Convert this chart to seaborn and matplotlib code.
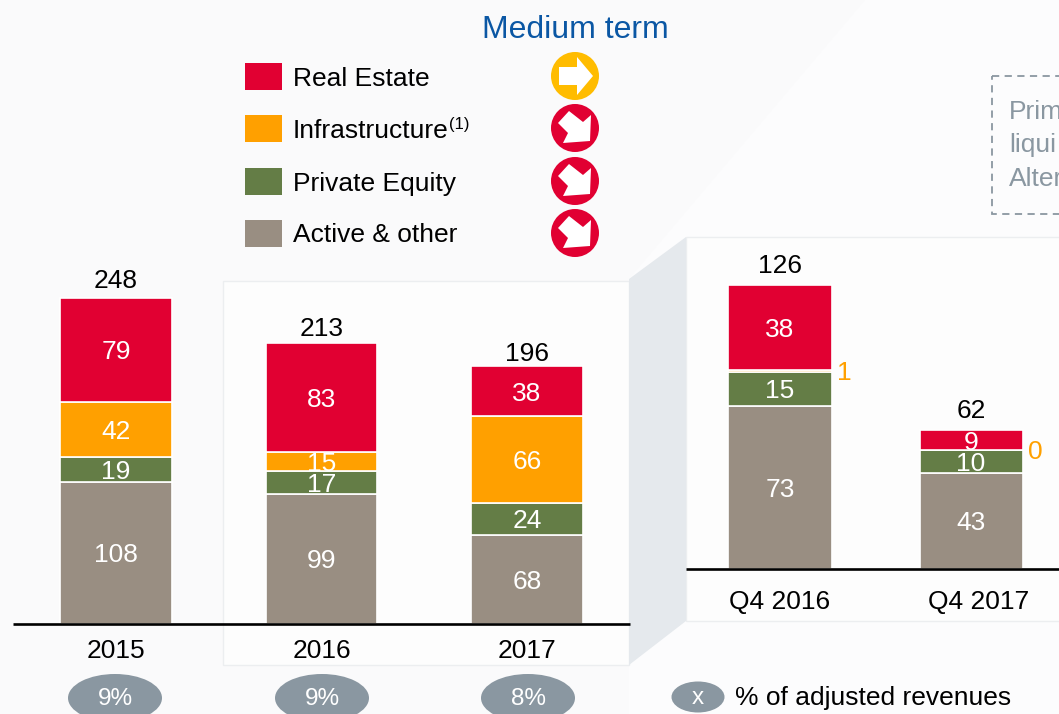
import numpy as np
import pandas as pd
import matplotlib.pyplot as plt
import seaborn as sns
from matplotlib.patches import Circle, Ellipse, Polygon, Rectangle
from matplotlib.transforms import ScaledTranslation

sns.set_theme(style="white")
plt.rcParams['font.family'] = ['Liberation Sans', 'DejaVu Sans']

W, H = 1059, 714

# data
series = ["Active & other", "Private Equity", "Infrastructure", "Real Estate"]
colors = ["#998E82", "#647D46", "#FFA000", "#E10032"]

years = ["2015", "2016", "2017"]
year_active = [108, 99, 68]
year_private = [19, 17, 24]
year_infra = [42, 15, 66]
year_real = [79, 83, 38]
year_totals = [248, 213, 196]
year_shares = ["9%", "9%", "8%"]

quarters = ["Q4 2016", "Q4 2017"]
q_active = [73, 43]
q_private = [15, 10]
q_infra = [1, 0]
q_real = [38, 9]
q_totals = [126, 62]

legend_order = ["Real Estate", "Infrastructure", "Private Equity", "Active & other"]
outlook = ["flat", "down", "down", "down"]

GREY = "#8A97A1"
TEXT_SIZE = 19


def pixel_axes(fig, left, top, right, bottom):
    """axes placed with reference pixel coordinates"""
    return fig.add_axes([left / W, 1 - bottom / H, (right - left) / W, (bottom - top) / H])


def stacked_bars(ax, labels, columns, totals, lifts, ymax, width, pad, side_series=None):
    df = pd.DataFrame(dict(zip(series, columns)))
    df['period'] = labels
    bottoms = np.zeros(len(labels))
    for name, color in zip(series, colors):
        sns.barplot(data=df, x='period', y=name, bottom=bottoms, color=color, saturation=1,
                    width=width, errorbar=None, edgecolor='white', linewidth=1.2, ax=ax)
        for i, v in enumerate(df[name]):
            if name == side_series:
                ax.annotate(str(v), (i + width / 2, bottoms[i] + v / 2), xytext=(4, -1.5),
                            textcoords='offset points', color=color, fontsize=TEXT_SIZE,
                            va='center', ha='left')
            else:
                ax.text(i, bottoms[i] + v / 2, str(v), color='white', fontsize=TEXT_SIZE,
                        ha='center', va='center_baseline')
        bottoms += df[name].to_numpy()

    # totals sit a little above each stack
    for i, total in enumerate(totals):
        ax.annotate(str(total), (i, bottoms[i]), xytext=(0, lifts[i]),
                    textcoords='offset points', ha='center', va='bottom',
                    fontsize=TEXT_SIZE, color='black')

    ax.set_ylim(0, ymax)
    ax.set_xlabel('')
    ax.set_ylabel('')
    ax.set_yticks([])
    ax.patch.set_alpha(0)
    sns.despine(ax=ax, left=True)
    ax.spines['bottom'].set_color('black')
    ax.spines['bottom'].set_linewidth(1.9)
    ax.spines['bottom'].set_capstyle('butt')
    ax.tick_params(axis='x', length=0, pad=pad, labelsize=TEXT_SIZE, labelcolor='black')


def draw_flat_arrow(ax, cx, cy):
    ax.add_patch(Circle((cx, cy), 24, color='#FFBC00', lw=0))
    shape = np.array([[-16, -9], [2, -9], [2, -19], [18, 0], [2, 19], [2, 9], [-16, 9]], dtype=float)
    ax.add_patch(Polygon(shape + [cx, cy], closed=True, color='white', lw=0))


def draw_down_arrow(ax, cx, cy):
    ax.add_patch(Circle((cx, cy), 24, color='#E10032', lw=0))
    shape = np.array([[-6, -17], [-17, -5], [-7, 5], [-12, 15], [15, 13], [16, -13], [8, -6]], dtype=float)
    ax.add_patch(Polygon(shape + [cx, cy], closed=True, color='white', lw=0))


fig = plt.figure(figsize=(W / 100, H / 100), dpi=100, facecolor='#FCFCFD')

# background layer: panels, connector, dashed box
bg = fig.add_axes([0, 0, 1, 1], zorder=0)
bg.set_xlim(0, W)
bg.set_ylim(H, 0)
bg.axis('off')
bg.add_patch(Polygon([(0, 0), (865, 0), (629, 279), (629, 714), (0, 714)], closed=True, color='#FAFAFB', lw=0))
bg.add_patch(Rectangle((223, 281), 406, 384, fc='#FDFDFD', ec='#ECEEF0', lw=1))
bg.add_patch(Rectangle((686, 237), 400, 384, fc='#FDFDFD', ec='#ECEEF0', lw=1))
bg.add_patch(Polygon([(629, 279), (686, 237), (686, 621), (629, 665)], closed=True, color='#E5E9ED', lw=0))
bg.add_patch(Rectangle((992, 76), 120, 138, fc='none', ec=GREY, lw=1.3, ls=(0, (4, 3))))

# left chart
ax_years = pixel_axes(fig, 13.25, 295.25, 629.75, 624)
ax_years.set_zorder(1)
stacked_bars(ax_years, years, [year_active, year_private, year_infra, year_real],
             year_totals, [3.5, 1.5, 0], 250, 0.545, 11)

# right chart, cut by the page edge
ax_q = pixel_axes(fig, 686, 279, W, 569)
ax_q.set_zorder(1)
stacked_bars(ax_q, quarters, [q_active, q_private, q_infra, q_real],
             q_totals, [5, 5], 129.5, 0.54, 15, side_series="Infrastructure")
ax_q.set_xlim(-0.492, 1.46)

# the second quarter label sits right of its bar in the original
q4_label = ax_q.get_xticklabels()[1]
q4_label.set_transform(q4_label.get_transform() + ScaledTranslation(0.08, 0, fig.dpi_scale_trans))

# top layer: legend, arrows, ellipses, free text
top = fig.add_axes([0, 0, 1, 1], zorder=2)
top.set_xlim(0, W)
top.set_ylim(H, 0)
top.axis('off')
top.patch.set_alpha(0)

top.text(575, 30, "Medium term", color='#0B57A4', fontsize=23, ha='center', va='center')

row_y = [76, 128, 181, 233]
for name, state, y in zip(legend_order, outlook, row_y):
    color = colors[series.index(name)]
    top.add_patch(Rectangle((245, y - 13.5), 37, 27, color=color, lw=0))
    top.text(293, y, name, fontsize=TEXT_SIZE, color='black', va='center_baseline')
    if state == "flat":
        draw_flat_arrow(top, 575, y)
    else:
        draw_down_arrow(top, 575, y)
top.text(449, 124, "(1)", fontsize=12, color='black', va='center')

for share, x in zip(year_shares, [115, 322, 528]):
    top.add_patch(Ellipse((x, 698), 94, 48, color=GREY, lw=0))
    top.text(x, 699, share, color='white', fontsize=TEXT_SIZE * 0.92, ha='center', va='center')

top.add_patch(Ellipse((698, 697), 53, 31, color=GREY, lw=0))
top.text(698, 698, "x", color='white', fontsize=TEXT_SIZE * 0.92, ha='center', va='center')
top.text(735, 698, "% of adjusted revenues", color='black', fontsize=TEXT_SIZE, va='center')

for label, y in zip(["Prim", "liqui", "Alter"], [112, 145, 179]):
    top.text(1009, y, label, color=GREY, fontsize=TEXT_SIZE, va='center')

fig.savefig('out.png', dpi=100, facecolor=fig.get_facecolor())
